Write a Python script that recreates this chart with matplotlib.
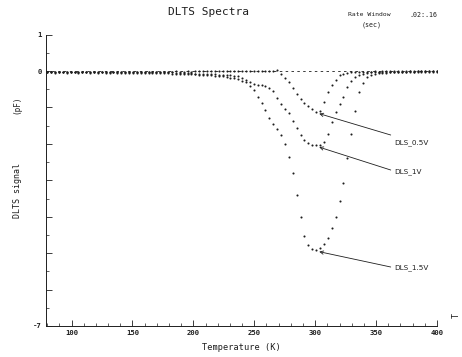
import matplotlib
matplotlib.use("Agg")
import matplotlib.pyplot as plt
import numpy as np

# ---------------- data ----------------
temperature = [
    80.0, 83.2, 86.4, 89.6, 92.8, 96.0, 99.2, 102.4, 105.6, 108.8,
    112.0, 115.2, 118.4, 121.6, 124.8, 128.0, 131.2, 134.4, 137.6, 140.8,
    144.0, 147.2, 150.4, 153.6, 156.8, 160.0, 163.2, 166.4, 169.6, 172.8,
    176.0, 179.2, 182.4, 185.6, 188.8, 192.0, 195.2, 198.4, 201.6, 204.8,
    208.0, 211.2, 214.4, 217.6, 220.8, 224.0, 227.2, 230.4, 233.6, 236.8,
    240.0, 243.2, 246.4, 249.6, 252.8, 256.0, 259.2, 262.4, 265.6, 268.8,
    272.0, 275.2, 278.4, 281.6, 284.8, 288.0, 291.2, 294.4, 297.6, 300.8,
    304.0, 307.2, 310.4, 313.6, 316.8, 320.0, 323.2, 326.4, 329.6, 332.8,
    336.0, 339.2, 342.4, 345.6, 348.8, 352.0, 355.2, 358.4, 361.6, 364.8,
    368.0, 371.2, 374.4, 377.6, 380.8, 384.0, 387.2, 390.4, 393.6, 396.8,
    400.0,
]

dls_05v = [
    -0.02, -0.03, -0.02, -0.02, -0.03, -0.02, -0.02, -0.03, -0.02, -0.02,
    -0.02, -0.03, -0.02, -0.02, -0.02, -0.03, -0.02, -0.02, -0.02, -0.03,
    -0.02, -0.02, -0.02, -0.02, -0.03, -0.02, -0.02, -0.02, -0.02, -0.02,
    -0.02, -0.02, -0.02, -0.01, -0.02, -0.02, -0.01, -0.02, -0.01, -0.01,
    -0.01, -0.01, -0.01, -0.01, -0.01, -0.01, -0.01, 0.00, -0.01, 0.00,
    0.00, 0.00, -0.01, 0.00, 0.00, -0.01, 0.00, 0.00, 0.00, 0.02,
    -0.08, -0.19, -0.30, -0.46, -0.63, -0.77, -0.88, -0.97, -1.05, -1.12,
    -1.09, -0.84, -0.57, -0.38, -0.24, -0.12, -0.07, -0.05, -0.04, -0.03,
    -0.03, -0.02, -0.02, -0.02, -0.01, -0.02, -0.01, -0.01, -0.01, -0.01,
    -0.01, -0.01, -0.01, 0.00, -0.01, 0.00, -0.01, 0.00, 0.00, 0.00,
    0.00,
]

dls_1v = [
    -0.03, -0.02, -0.03, -0.03, -0.02, -0.03, -0.03, -0.02, -0.03, -0.03,
    -0.03, -0.02, -0.03, -0.03, -0.03, -0.02, -0.03, -0.03, -0.03, -0.03,
    -0.03, -0.03, -0.03, -0.03, -0.03, -0.03, -0.04, -0.03, -0.04, -0.04,
    -0.04, -0.04, -0.04, -0.05, -0.05, -0.05, -0.06, -0.06, -0.07, -0.07,
    -0.08, -0.08, -0.09, -0.09, -0.10, -0.10, -0.11, -0.12, -0.13, -0.15,
    -0.19, -0.25, -0.31, -0.35, -0.38, -0.39, -0.42, -0.46, -0.56, -0.74,
    -0.90, -1.03, -1.16, -1.36, -1.56, -1.76, -1.89, -1.97, -2.02, -2.04,
    -2.03, -1.95, -1.72, -1.40, -1.12, -0.90, -0.70, -0.45, -0.27, -0.16,
    -0.10, -0.07, -0.05, -0.04, -0.04, -0.03, -0.03, -0.03, -0.02, -0.02,
    -0.02, -0.02, -0.02, -0.01, -0.02, -0.01, -0.01, -0.01, -0.01, -0.01,
    -0.01,
]

dls_15v = [
    -0.04, -0.04, -0.05, -0.04, -0.04, -0.05, -0.04, -0.04, -0.05, -0.04,
    -0.04, -0.05, -0.04, -0.05, -0.04, -0.05, -0.05, -0.04, -0.05, -0.05,
    -0.05, -0.05, -0.05, -0.05, -0.05, -0.06, -0.05, -0.06, -0.06, -0.06,
    -0.06, -0.06, -0.07, -0.07, -0.07, -0.08, -0.08, -0.09, -0.09, -0.10,
    -0.10, -0.11, -0.12, -0.13, -0.14, -0.15, -0.16, -0.18, -0.20, -0.23,
    -0.27, -0.31, -0.40, -0.53, -0.70, -0.87, -1.08, -1.28, -1.45, -1.60,
    -1.76, -2.00, -2.37, -2.80, -3.40, -4.02, -4.52, -4.77, -4.89, -4.91,
    -4.86, -4.76, -4.59, -4.32, -4.00, -3.58, -3.07, -2.40, -1.72, -1.10,
    -0.58, -0.32, -0.16, -0.10, -0.07, -0.06, -0.05, -0.05, -0.04, -0.04,
    -0.04, -0.03, -0.03, -0.03, -0.03, -0.02, -0.02, -0.02, -0.02, -0.02,
    -0.02,
]

series_labels = ["DLS_0.5V", "DLS_1V", "DLS_1.5V"]
x_ticks = [100, 150, 200, 250, 300, 350, 400]
y_ticks = [-7, -6, -5, -4, -3, -2, -1, 0, 1]
y_tick_labels = ["-7", "", "", "", "", "", "", "0", "1"]

# ---------------- figure ----------------
INK = "#1e1e1e"
MONO = "DejaVu Sans Mono"

fig = plt.figure(figsize=(4.62, 3.57), dpi=100)
fig.patch.set_facecolor("white")
W, H = 462, 357
ax = fig.add_axes([46 / W, 1 - 326 / H, (437 - 46) / W, (326 - 34.6) / H])

ax.set_xlim(79, 400)
ax.set_ylim(-7, 1)

# zero reference line
ax.axhline(0, color=INK, lw=0.6, ls=(0, (3, 4)), zorder=1)

all_series = [dls_05v, dls_1v, dls_15v]
for vals in all_series:
    ax.plot(temperature, vals, ls="none", marker="o", ms=1.5,
            mfc=INK, mec=INK, mew=0, zorder=3)

# label arrows
label_px_y = [143, 171.5, 268]
tail_px_y = [135, 170, 267]
for vals, lab, ly, ty in zip(all_series, series_labels, label_px_y, tail_px_y):
    i = int(np.argmin(vals))
    tip = (temperature[i] + 2.5, vals[i] - 0.05)
    tail_y = -(ty - 71) / 36.43
    text_y = -(ly - 71) / 36.43
    ax.annotate("", xy=tip, xytext=(362, tail_y),
                arrowprops=dict(arrowstyle="->", lw=0.6, color=INK,
                                shrinkA=0, shrinkB=0,
                                mutation_scale=6))
    ax.text(364.5, text_y, lab, fontsize=5.2, color=INK,
            ha="left", va="center", family="DejaVu Sans")

# spines / ticks
for s in ["top", "right"]:
    ax.spines[s].set_visible(False)
for s in ["left", "bottom"]:
    ax.spines[s].set_linewidth(0.7)
    ax.spines[s].set_color(INK)

ax.set_xticks(x_ticks)
ax.set_xticklabels([str(v) for v in x_ticks])
ax.set_xticks(np.arange(80, 401, 10), minor=True)
ax.set_yticks(y_ticks)
ax.set_yticklabels(y_tick_labels)
ax.set_yticks(np.arange(-6.5, 1, 1.0), minor=True)

ax.tick_params(axis="both", which="major", direction="in", length=4,
               width=0.6, color=INK, labelsize=5.2, labelcolor=INK, pad=3)
ax.tick_params(axis="both", which="minor", direction="in", length=2,
               width=0.5, color=INK)
for lbl in ax.get_xticklabels() + ax.get_yticklabels():
    lbl.set_family(MONO)
    lbl.set_fontweight("bold")

# texts
fig.text(209 / W, 1 - 12 / H, "DLTS Spectra", fontsize=8, family=MONO,
         color=INK, ha="center", va="center")
fig.text(348 / W, 1 - 15 / H, "Rate Window", fontsize=4.6, family=MONO,
         color=INK, ha="left", va="center")
fig.text(409 / W, 1 - 15 / H, ".02:.16", fontsize=4.8, family=MONO,
         color=INK, ha="left", va="center")
fig.text(362 / W, 1 - 25 / H, "(sec)", fontsize=4.8, family=MONO,
         color=INK, ha="left", va="center")
fig.text(241 / W, 1 - 347 / H, "Temperature (K)", fontsize=6.2, family=MONO,
         color=INK, ha="center", va="center")
fig.text(17 / W, 1 - 190 / H, "DLTS signal", fontsize=6, family=MONO,
         color=INK, ha="center", va="center", rotation=90)
fig.text(17 / W, 1 - 105 / H, "(pF)", fontsize=5.5, family=MONO,
         color=INK, ha="center", va="center", rotation=90)
fig.text(456 / W, 1 - 316 / H, "T", fontsize=6, family=MONO,
         color=INK, ha="center", va="center", rotation=90)

fig.savefig("out.png", dpi=100, facecolor="white")
